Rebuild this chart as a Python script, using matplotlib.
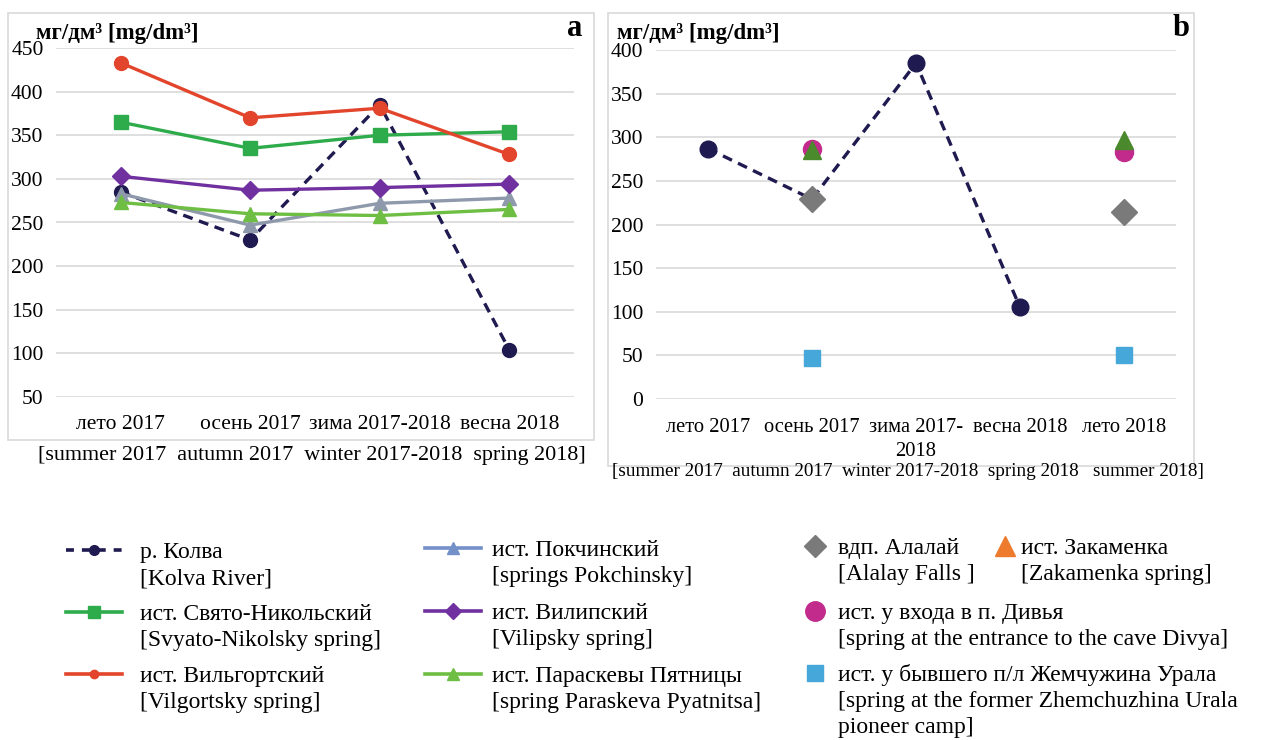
import numpy as np
import matplotlib.pyplot as plt
from matplotlib.lines import Line2D
from matplotlib.patches import Rectangle

plt.rcParams['font.family'] = ['Liberation Serif', 'DejaVu Serif']

# panel a
seasons_a = ['лето 2017', 'осень 2017', 'зима 2017-2018', 'весна 2018']
kolva_a = [285, 230, 385, 104]
svyato = [365, 335, 350, 354]
vilgort = [433, 370, 381, 328]
pokchin = [283, 247, 272, 278]
vilip = [303, 287, 290, 294]
paraskeva = [273, 260, 258, 265]

# panel b
seasons_b = ['лето 2017', 'осень 2017', 'зима 2017-\n2018', 'весна 2018', 'лето 2018']
kolva_b = [287, 229, 385, 105, np.nan]
alalay = [np.nan, 229, np.nan, np.nan, 214]
divya = [np.nan, 286, np.nan, np.nan, 283]
zakamenka = [np.nan, 285, np.nan, np.nan, 297]
zhemchug = [np.nan, 47, np.nan, np.nan, 50]

NAVY = '#1F1A4F'
GREEN = '#2EAB4B'
RED = '#E2452B'
GREY_BLUE = '#8E9AAB'
PURPLE = '#7030A0'
LGREEN = '#6EBE44'
DGREY = '#7A7A7A'
MAGENTA = '#C22A8C'
LBLUE = '#45A7DA'
ORANGE = '#EE7A2E'
DGREEN = '#4A8A2C'

W, H = 1266, 740
fig = plt.figure(figsize=(W / 100, H / 100), dpi=100)


def fx(px):
    return px / W


def fy(py):
    return 1 - py / H


# panel frames
fig.patches.append(Rectangle((fx(8), fy(440)), fx(594 - 8), (440 - 13) / H,
                             transform=fig.transFigure, fill=False,
                             edgecolor='#D9D9D9', lw=1.2))
fig.patches.append(Rectangle((fx(608), fy(466)), fx(1194 - 608), (466 - 13) / H,
                             transform=fig.transFigure, fill=False,
                             edgecolor='#D9D9D9', lw=1.2))


def style_axes(ax, fs):
    for s in ax.spines.values():
        s.set_visible(False)
    ax.tick_params(length=0, labelsize=fs)
    ax.tick_params(axis='y', pad=9)
    ax.yaxis.grid(True, color='#D9D9D9', lw=1.2)
    ax.set_axisbelow(True)


# ---- a ----
axa = fig.add_axes([fx(56), fy(397), fx(518), 349 / H])
xa = np.arange(len(seasons_a))
axa.plot(xa, kolva_a, color=NAVY, ls=(0, (3, 2)), lw=2.4, marker='o', ms=10, zorder=3)
axa.plot(xa, svyato, color=GREEN, lw=2.4, marker='s', ms=10, zorder=4)
axa.plot(xa, vilgort, color=RED, lw=2.4, marker='o', ms=10, zorder=5)
axa.plot(xa, pokchin, color=GREY_BLUE, lw=2.4, marker='^', ms=10, zorder=4)
axa.plot(xa, vilip, color=PURPLE, lw=2.4, marker='D', ms=9, zorder=4)
axa.plot(xa, paraskeva, color=LGREEN, lw=2.4, marker='^', ms=10, zorder=4)
axa.set_xlim(-0.5, 3.5)
axa.set_ylim(50, 450)
axa.set_yticks(np.arange(50, 451, 50))
axa.set_xticks(xa)
axa.set_xticklabels(seasons_a)
style_axes(axa, 15.5)
axa.tick_params(axis='x', pad=13)

fig.text(fx(36), fy(33), 'мг/дм³ [mg/dm³]', fontsize=16.5, fontweight='bold', va='center')
fig.text(fx(575), fy(28), 'a', fontsize=22, fontweight='bold', va='center', ha='center')
fig.text(fx(38), fy(455), '[summer 2017  autumn 2017  winter 2017-2018  spring 2018]',
         fontsize=15.9, ha='left', va='center')

# ---- b ----
axb = fig.add_axes([fx(656), fy(399), fx(520), 349 / H])
xb = np.arange(len(seasons_b))
axb.plot(xb, kolva_b, color=NAVY, ls=(0, (3, 2)), lw=2.4, marker='o', ms=12, zorder=3)
axb.plot(xb, alalay, ls='none', color=DGREY, marker='D', ms=13, zorder=4)
axb.plot(xb, divya, ls='none', color=MAGENTA, marker='o', ms=13, zorder=4)
axb.plot(xb, zakamenka, ls='none', color=DGREEN, marker='^', ms=13, zorder=5)
axb.plot(xb, zhemchug, ls='none', color=LBLUE, marker='s', ms=12, zorder=4)
axb.set_xlim(-0.5, 4.5)
axb.set_ylim(0, 400)
axb.set_yticks(np.arange(0, 401, 50))
axb.set_xticks(xb)
axb.set_xticklabels(seasons_b, linespacing=1.3)
style_axes(axb, 15.5)
axb.tick_params(axis='x', labelsize=14.8, pad=14)

fig.text(fx(617), fy(33), 'мг/дм³ [mg/dm³]', fontsize=16.5, fontweight='bold', va='center')
fig.text(fx(1181), fy(28), 'b', fontsize=22, fontweight='bold', va='center', ha='center')
fig.text(fx(908), fy(472), '[summer 2017  autumn 2017  winter 2017-2018  spring 2018   summer 2018]',
         fontsize=13.8, ha='center', va='center')

# ---- legend (built entry by entry so the key sits on the first text line) ----
LEG_FS = 17
PX_PER_UNIT = LEG_FS * 100 / 72
LINE_STEP = 26


def legend_entry(handle, x0, x1, y, lines, x_text):
    fig.legend([handle], [''], loc='center left', bbox_to_anchor=(fx(x0), fy(y + 2)),
               frameon=False, borderpad=0, borderaxespad=0, handletextpad=0,
               handlelength=(x1 - x0) / PX_PER_UNIT, fontsize=LEG_FS)
    for i, line in enumerate(lines):
        fig.text(fx(x_text), fy(y + i * LINE_STEP), line, fontsize=LEG_FS,
                 va='center_baseline', ha='left')


def line_h(color, marker, ms, ls='-'):
    return Line2D([], [], color=color, lw=2.6, ls=ls, marker=marker, ms=ms)


def pt_h(color, marker, ms):
    return Line2D([], [], ls='none', color=color, marker=marker, ms=ms)


col1 = [
    (line_h(NAVY, 'o', 7, ls=(0, (2.2, 2.2))), 550, ['р. Колва', '[Kolva River]']),
    (line_h(GREEN, 's', 8), 612, ['ист. Свято-Никольский', '[Svyato-Nikolsky spring]']),
    (line_h(RED, 'o', 6), 674, ['ист. Вильгортский', '[Vilgortsky spring]']),
]
for h, y, lines in col1:
    legend_entry(h, 66, 122, y, lines, 140)

col2 = [
    (line_h('#7390C8', '^', 9), 548, ['ист. Покчинский', '[springs Pokchinsky]']),
    (line_h(PURPLE, 'D', 8), 611, ['ист. Вилипский', '[Vilipsky spring]']),
    (line_h(LGREEN, '^', 9), 674, ['ист. Параскевы Пятницы', '[spring Paraskeva Pyatnitsa]']),
]
for h, y, lines in col2:
    legend_entry(h, 425, 481, y, lines, 492)

legend_entry(pt_h(DGREY, 'D', 11), 805, 825, 546, ['вдп. Алалай', '[Alalay Falls ]'], 838)
legend_entry(pt_h(ORANGE, '^', 15), 994, 1016, 546, ['ист. Закаменка', '[Zakamenka spring]'], 1021)
legend_entry(pt_h(MAGENTA, 'o', 14), 805, 825, 611,
             ['ист. у входа в п. Дивья', '[spring at the entrance to the cave Divya]'], 838)
legend_entry(pt_h(LBLUE, 's', 12), 805, 825, 673,
             ['ист. у бывшего п/л Жемчужина Урала', '[spring at the former Zhemchuzhina Urala',
              'pioneer camp]'], 838)

fig.savefig('out.png', dpi=100)
